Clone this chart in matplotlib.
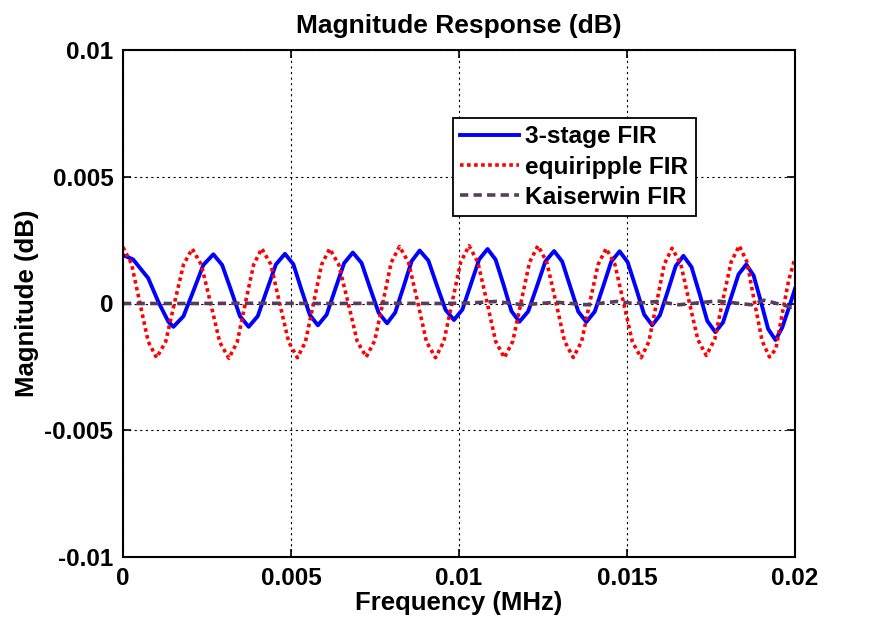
import matplotlib
matplotlib.use("Agg")
import matplotlib.pyplot as plt

# ---- data ----
freq_3stage = [0.0, 0.0003, 0.00075, 0.00105, 0.00135, 0.00150,
               0.00180, 0.00210, 0.00239, 0.00269,
               0.00295, 0.00322, 0.00348, 0.00374,
               0.00401, 0.00428, 0.00455, 0.00482,
               0.00507, 0.00531, 0.00556, 0.00580,
               0.00606, 0.00632, 0.00658, 0.00684,
               0.00710, 0.00735, 0.00761, 0.00786,
               0.00810, 0.00835, 0.00859, 0.00883,
               0.00909, 0.00934, 0.00960, 0.00985,
               0.01010, 0.01035, 0.01060, 0.01085,
               0.01109, 0.01133, 0.01156, 0.01180,
               0.01206, 0.01232, 0.01257, 0.01283,
               0.01307, 0.01331, 0.01355, 0.01379,
               0.01404, 0.01429, 0.01453, 0.01478,
               0.01502, 0.01527, 0.01551, 0.01575,
               0.01598, 0.01622, 0.01645, 0.01668,
               0.01692, 0.01716, 0.01739, 0.01763,
               0.01786, 0.01809, 0.01832, 0.01855,
               0.01877, 0.01899, 0.01920, 0.01942,
               0.01962, 0.01981, 0.02000]
mag_3stage = [0.00191, 0.00174, 0.00100, 0.00007, -0.00072, -0.00092,
              -0.00050, 0.00051, 0.00152, 0.00194,
              0.00152, 0.00051, -0.00050, -0.00092,
              -0.00050, 0.00052, 0.00154, 0.00196,
              0.00155, 0.00055, -0.00045, -0.00086,
              -0.00044, 0.00058, 0.00159, 0.00201,
              0.00160, 0.00062, -0.00037, -0.00078,
              -0.00036, 0.00066, 0.00167, 0.00209,
              0.00169, 0.00072, -0.00025, -0.00065,
              -0.00024, 0.00075, 0.00174, 0.00215,
              0.00173, 0.00072, -0.00030, -0.00072,
              -0.00031, 0.00068, 0.00166, 0.00207,
              0.00166, 0.00067, -0.00032, -0.00073,
              -0.00032, 0.00067, 0.00165, 0.00206,
              0.00163, 0.00060, -0.00043, -0.00086,
              -0.00046, 0.00051, 0.00148, 0.00188,
              0.00144, 0.00038, -0.00069, -0.00113,
              -0.00074, 0.00021, 0.00115, 0.00154,
              0.00110, 0.00005, -0.00100, -0.00144,
              -0.00095, -0.00020, 0.00058]

freq_equi = [0.0, 0.00025, 0.00050, 0.00075, 0.00100,
             0.00127, 0.00153, 0.00180, 0.00206,
             0.00233, 0.00261, 0.00288, 0.00315,
             0.00340, 0.00364, 0.00389, 0.00413,
             0.00440, 0.00466, 0.00493, 0.00519,
             0.00543, 0.00567, 0.00591, 0.00615,
             0.00642, 0.00670, 0.00697, 0.00724,
             0.00749, 0.00774, 0.00798, 0.00823,
             0.00850, 0.00877, 0.00903, 0.00930,
             0.00955, 0.00980, 0.01005, 0.01030,
             0.01056, 0.01083, 0.01109, 0.01135,
             0.01160, 0.01185, 0.01210, 0.01235,
             0.01261, 0.01288, 0.01314, 0.01340,
             0.01365, 0.01389, 0.01414, 0.01438,
             0.01464, 0.01490, 0.01516, 0.01542,
             0.01565, 0.01588, 0.01611, 0.01634,
             0.01660, 0.01685, 0.01711, 0.01736,
             0.01761, 0.01785, 0.01810, 0.01834,
             0.01857, 0.01879, 0.01902, 0.01924,
             0.01943, 0.01962, 0.01981, 0.02000]
mag_equi = [0.00222, 0.00158, 0.00004, -0.00150, -0.00214,
            -0.00151, 0.00001, 0.00153, 0.00216,
            0.00153, 0.00000, -0.00153, -0.00216,
            -0.00152, 0.00001, 0.00154, 0.00217,
            0.00154, 0.00002, -0.00151, -0.00214,
            -0.00151, 0.00001, 0.00153, 0.00216,
            0.00154, 0.00003, -0.00149, -0.00211,
            -0.00147, 0.00007, 0.00161, 0.00225,
            0.00161, 0.00006, -0.00150, -0.00214,
            -0.00149, 0.00007, 0.00163, 0.00228,
            0.00163, 0.00007, -0.00149, -0.00214,
            -0.00149, 0.00007, 0.00163, 0.00228,
            0.00164, 0.00008, -0.00148, -0.00213,
            -0.00150, 0.00002, 0.00154, 0.00217,
            0.00154, 0.00002, -0.00151, -0.00214,
            -0.00151, 0.00002, 0.00155, 0.00218,
            0.00156, 0.00007, -0.00143, -0.00205,
            -0.00142, 0.00012, 0.00164, 0.00228,
            0.00164, 0.00009, -0.00147, -0.00211,
            -0.00180, -0.00040, 0.00090, 0.00180]

freq_kaiser = [0.0, 0.002, 0.004, 0.006, 0.008, 0.0095, 0.0103, 0.0111,
               0.0119, 0.0129, 0.0138, 0.0147, 0.0152, 0.0159, 0.01655,
               0.01768, 0.0187, 0.01908, 0.0199, 0.0200]
mag_kaiser = [0.0, 0.0, 0.00001, 0.0, 0.00001, 0.0, 0.00002, 0.00008,
              -0.00005, 0.00005, -0.00005, 0.00008, 0.0, 0.00008, -0.00005,
              0.00010, -0.00005, 0.00013, -0.00015, -0.00012]

series_labels = ["3-stage FIR", "equiripple FIR", "Kaiserwin FIR"]
xticks = [0, 0.005, 0.01, 0.015, 0.02]
xticklabels = ["0", "0.005", "0.01", "0.015", "0.02"]
yticks = [-0.01, -0.005, 0, 0.005, 0.01]
yticklabels = ["-0.01", "-0.005", "0", "0.005", "0.01"]

# ---- figure ----
plt.rcParams['font.family'] = ['Liberation Sans', 'DejaVu Sans']
plt.rcParams['font.weight'] = 'bold'

fig = plt.figure(figsize=(8.8, 6.21), dpi=100)
ax = fig.add_axes([123/880, 64/621, 672/880, 507/621])

ax.plot(freq_3stage, mag_3stage, color='#0000ff', lw=2.8, label=series_labels[0],
        solid_joinstyle='round')
ax.plot(freq_equi, mag_equi, color='#ff0000', lw=2.6, dashes=(1.0, 0.95),
        label=series_labels[1])
ax.plot(freq_kaiser, mag_kaiser, color='#5a3c5e', lw=2.6, dashes=(2.3, 1.45),
        label=series_labels[2])

ax.set_xlim(0, 0.02)
ax.set_ylim(-0.01, 0.01)
ax.set_xticks(xticks)
ax.set_xticklabels(xticklabels)
ax.set_yticks(yticks)
ax.set_yticklabels(yticklabels)
ax.tick_params(direction='in', length=6, width=1.2, top=True, right=True,
               labelsize=17.5, pad=7)
for lab in ax.get_xticklabels() + ax.get_yticklabels():
    lab.set_fontweight('bold')
for sp in ax.spines.values():
    sp.set_linewidth(1.5)
    sp.set_color('black')

ax.grid(True, color='black', linestyle=(0, (2, 3)), linewidth=0.8)

ax.set_title("Magnitude Response (dB)", fontsize=19, fontweight='bold', pad=12)
ax.set_xlabel("Frequency (MHz)", fontsize=18.5, fontweight='bold', labelpad=1)
ax.set_ylabel("Magnitude (dB)", fontsize=18.5, fontweight='bold', labelpad=4)

leg = ax.legend(loc='upper left', bbox_to_anchor=(0.491, 0.866), fontsize=17.6,
                frameon=True, fancybox=False, edgecolor='black', framealpha=1,
                handlelength=2.4, handletextpad=0.25, borderpad=0.3,
                labelspacing=0.3, borderaxespad=0)
leg.get_frame().set_linewidth(1.3)
for t in leg.get_texts():
    t.set_fontweight('bold')

fig.savefig("out.png", dpi=100)
